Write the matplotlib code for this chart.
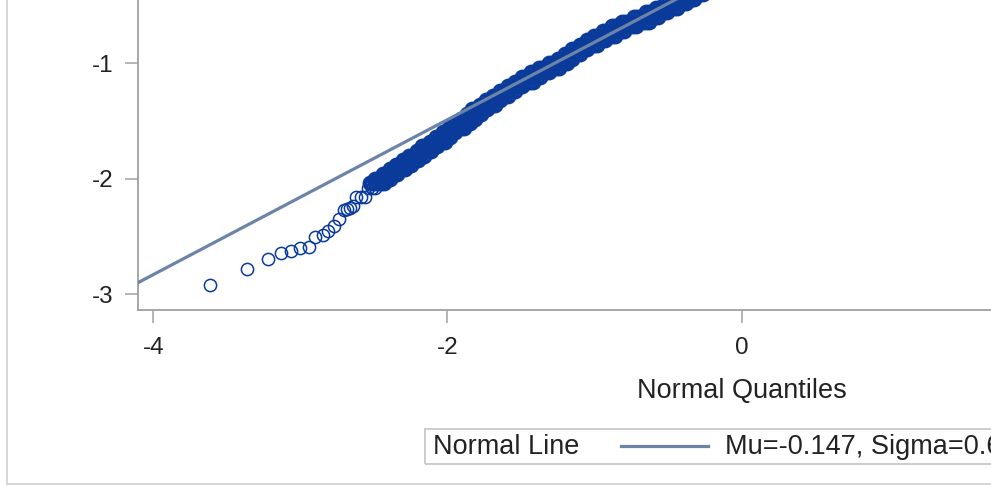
import matplotlib
matplotlib.use("Agg")
import matplotlib.pyplot as plt
from matplotlib.patches import Rectangle
from matplotlib.lines import Line2D

plt.rcParams['font.family'] = ['Liberation Sans', 'DejaVu Sans']

# normal line parameters
mu = -0.147
sigma = 0.671

# lower tail points (normal quantile, observed value)
tail_x = [-3.612, -3.363, -3.222, -3.133, -3.061, -3.000, -2.942, -2.898,
          -2.850, -2.810, -2.769, -2.741, -2.707, -2.680, -2.660, -2.640]
tail_y = [-2.926, -2.787, -2.697, -2.647, -2.629, -2.600, -2.596, -2.504,
          -2.487, -2.452, -2.409, -2.348, -2.271, -2.262, -2.253, -2.240]

# sparse start of the dense part: observed values in steps
low_levels = [-2.16, -2.08]
low_x = [
    [-2.62, -2.59, -2.56],
    [-2.54, -2.51, -2.49],
]

# dense part: observed values come in steps, quantiles read for each step
band_levels = [-2.04, -2.00, -1.96, -1.92, -1.88, -1.84, -1.80, -1.76, -1.72,
               -1.68, -1.64, -1.60, -1.56, -1.52, -1.48, -1.44, -1.40, -1.36,
               -1.32, -1.28, -1.24, -1.20, -1.16, -1.12, -1.08, -1.04, -1.00,
               -0.96, -0.92, -0.88, -0.84, -0.80, -0.76, -0.72, -0.68, -0.64,
               -0.60, -0.56, -0.52, -0.48, -0.44, -0.40, -0.36, -0.32]
band_x = [
    [-2.53, -2.51, -2.49, -2.47, -2.45, -2.43],
    [-2.49, -2.47, -2.45, -2.43, -2.41, -2.39],
    [-2.44, -2.42, -2.40, -2.38, -2.36, -2.34],
    [-2.39, -2.37, -2.35, -2.33, -2.31, -2.29],
    [-2.35, -2.33, -2.31, -2.29, -2.27, -2.25],
    [-2.30, -2.28, -2.26, -2.24, -2.22, -2.20],
    [-2.26, -2.24, -2.22, -2.20, -2.18, -2.16],
    [-2.21, -2.19, -2.17, -2.15, -2.13, -2.11],
    [-2.17, -2.15, -2.13, -2.11, -2.09, -2.07],
    [-2.12, -2.10, -2.08, -2.06, -2.04, -2.02],
    [-2.08, -2.06, -2.04, -2.02, -2.00, -1.98],
    [-2.03, -2.01, -1.99, -1.97, -1.95],
    [-1.99, -1.97, -1.95, -1.93, -1.91, -1.89],
    [-1.95, -1.93, -1.91, -1.89, -1.87, -1.85],
    [-1.91, -1.89, -1.87, -1.85, -1.83, -1.81],
    [-1.87, -1.85, -1.83, -1.81, -1.79, -1.77],
    [-1.83, -1.81, -1.79, -1.77, -1.75, -1.73],
    [-1.78, -1.76, -1.74, -1.72, -1.70, -1.68],
    [-1.74, -1.72, -1.70, -1.68, -1.66, -1.64],
    [-1.69, -1.67, -1.65, -1.63, -1.61, -1.59],
    [-1.64, -1.62, -1.60, -1.58, -1.56, -1.54],
    [-1.59, -1.57, -1.55, -1.53, -1.51, -1.49],
    [-1.54, -1.52, -1.50, -1.48, -1.46, -1.44, -1.42],
    [-1.49, -1.47, -1.45, -1.43, -1.41, -1.39, -1.37],
    [-1.43, -1.41, -1.39, -1.37, -1.35, -1.33, -1.31],
    [-1.38, -1.36, -1.34, -1.32, -1.30, -1.28, -1.26, -1.24],
    [-1.31, -1.29, -1.27, -1.25, -1.23, -1.21, -1.19],
    [-1.25, -1.23, -1.21, -1.19, -1.17, -1.15],
    [-1.20, -1.18, -1.16, -1.14, -1.12, -1.10],
    [-1.15, -1.13, -1.11, -1.09, -1.07, -1.05],
    [-1.10, -1.08, -1.06, -1.04, -1.02, -1.00, -0.98],
    [-1.05, -1.03, -1.01, -0.99, -0.97, -0.95, -0.93],
    [-1.00, -0.98, -0.96, -0.94, -0.92, -0.90, -0.88, -0.86],
    [-0.94, -0.92, -0.90, -0.88, -0.86, -0.84, -0.82, -0.80],
    [-0.88, -0.86, -0.84, -0.82, -0.80, -0.78, -0.76, -0.74, -0.72],
    [-0.81, -0.79, -0.77, -0.75, -0.73, -0.71, -0.69, -0.67, -0.65, -0.63],
    [-0.73, -0.71, -0.69, -0.67, -0.65, -0.63, -0.61, -0.59, -0.57],
    [-0.65, -0.63, -0.61, -0.59, -0.57, -0.55, -0.53, -0.51],
    [-0.58, -0.56, -0.54, -0.52, -0.50, -0.48, -0.46, -0.44],
    [-0.52, -0.50, -0.48, -0.46, -0.44, -0.42, -0.40, -0.38],
    [-0.46, -0.44, -0.42, -0.40, -0.38, -0.36, -0.34, -0.32],
    [-0.40, -0.38, -0.36, -0.34, -0.32, -0.30, -0.28, -0.26],
    [-0.34, -0.32, -0.30, -0.28, -0.26, -0.24, -0.22, -0.20],
    [-0.28, -0.26, -0.24, -0.22, -0.20, -0.18, -0.16, -0.14],
]

sx = list(tail_x)
sy = list(tail_y)
for lev, xs in zip(low_levels, low_x):
    sx += xs
    sy += [lev] * len(xs)

dx, dy = [], []
for lev, xs in zip(band_levels, band_x):
    dx += xs
    dy += [lev] * len(xs)

W, H = 991, 486
fig = plt.figure(figsize=(W / 100, H / 100), dpi=100)
fig.patch.set_facecolor('white')

# the plot area runs past the right and top edge of the picture
ax_left, ax_bottom_px, ax_w = 138, 309.5, 1207
ax = fig.add_axes([ax_left / W, 1 - ax_bottom_px / H, ax_w / W, ax_bottom_px / H])
ax.set_xlim(-4.105, 4.105)
ax.set_ylim(-3.134, -0.452)

marker_col = '#0a3b9b'
line_col = '#6c84a8'
ax.plot(sx, sy, 'o', ms=8.8, mfc='none', mec=marker_col, mew=1.1, zorder=2)
# overlapping circles in the dense part merge into a solid band
ax.plot(dx, dy, 'o', ms=9.4, mfc='none', mec=marker_col, mew=2.0, zorder=2)
xl = [-4.105, 4.105]
ax.plot(xl, [mu + sigma * v for v in xl], color=line_col, lw=2.3, zorder=3)

ax.set_xticks([-4, -2, 0])
ax.set_yticks([-3, -2, -1])
ax.set_xticklabels(['-4', '-2', '0'])
ax.set_yticklabels(['-3', '-2', '-1'])
for s in ['top', 'right']:
    ax.spines[s].set_visible(False)
for s in ['left', 'bottom']:
    ax.spines[s].set_color('#a0a0a0')
    ax.spines[s].set_linewidth(1.3)
ax.tick_params(axis='both', colors='#a0a0a0', labelcolor='#222222',
               length=9.5, width=1.1, labelsize=17.5)
ax.tick_params(axis='x', pad=10.5)
ax.tick_params(axis='y', pad=8)
ax.set_xlabel('Normal Quantiles', fontsize=19.5, color='#222222', labelpad=13.5)


def fx(px):
    return px / W


def fy(py):
    return 1 - py / H


# outer frame of the graph
fig.add_artist(Line2D([fx(7), fx(7)], [fy(0), fy(484)], color='#d4d4d4', lw=1.3))
fig.add_artist(Line2D([fx(7), fx(991)], [fy(484), fy(484)], color='#d4d4d4', lw=1.3))

# legend (runs past the right edge like the plot area)
fig.add_artist(Rectangle((fx(425), fy(464)), fx(1060) - fx(425), fy(429) - fy(464),
                         fill=False, edgecolor='#c8c8c8', lw=1.3))
fig.text(fx(433), fy(446.5), 'Normal Line', fontsize=19.5, color='#222222',
         ha='left', va='center')
fig.add_artist(Line2D([fx(621), fx(708)], [fy(446), fy(446)], color=line_col, lw=2.3))
fig.text(fx(725), fy(446.5), 'Mu=%.3f, Sigma=%.3f' % (mu, sigma), fontsize=19.5,
         color='#222222', ha='left', va='center')

fig.savefig('out.png', dpi=100)
